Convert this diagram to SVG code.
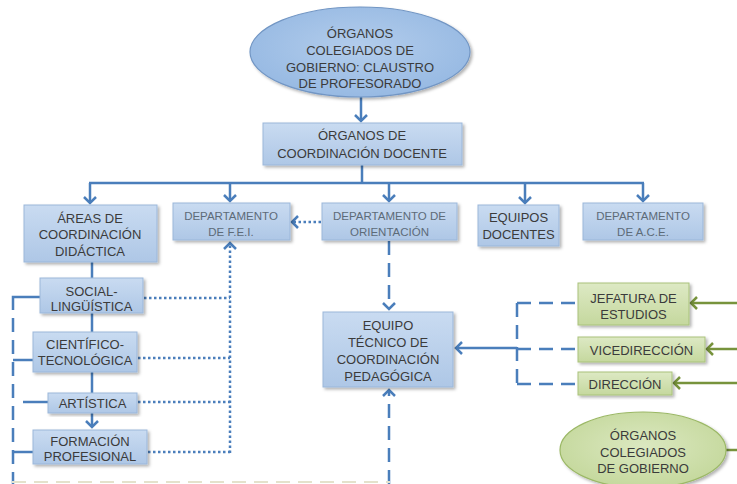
<svg xmlns="http://www.w3.org/2000/svg" width="737" height="484" viewBox="0 0 737 484">
<style>
  text { font-family: "Liberation Sans", Arial, sans-serif; font-size: 13px; fill: #3b3b3b; text-anchor: middle; }
  text.dept { font-size: 11.5px; fill: #5d6b78; }
  .bbox { fill: url(#gBlue); stroke: #9bb7da; stroke-width: 1; filter: url(#sh); }
  .gbox { fill: url(#gGreen); stroke: #a9c27a; stroke-width: 1; filter: url(#sh); }
  .ell { fill: url(#gEll); stroke: #7296c4; stroke-width: 1.2; filter: url(#sh); }
  .gell { fill: url(#gGEll); stroke: #9bb865; stroke-width: 1.2; filter: url(#sh); }
  .c { fill: none; stroke: #4a7ebb; stroke-width: 2.5; }
  .dash { stroke-dasharray: 14 8; }
  .dot { stroke-dasharray: 2.5 2.5; }
  .g { fill: none; stroke: #77933c; stroke-width: 2.5; }
</style>
<defs>
  <linearGradient id="gBlue" x1="0" y1="0" x2="0" y2="1">
    <stop offset="0" stop-color="#c9dbf1"/>
    <stop offset="1" stop-color="#aec7e6"/>
  </linearGradient>
  <linearGradient id="gGreen" x1="0" y1="0" x2="0" y2="1">
    <stop offset="0" stop-color="#dde9c4"/>
    <stop offset="1" stop-color="#c5d89e"/>
  </linearGradient>
  <radialGradient id="gEll" cx="0.5" cy="0.45" r="0.6">
    <stop offset="0" stop-color="#b3cdec"/>
    <stop offset="1" stop-color="#95b8e2"/>
  </radialGradient>
  <radialGradient id="gGEll" cx="0.5" cy="0.45" r="0.6">
    <stop offset="0" stop-color="#dbe8c0"/>
    <stop offset="1" stop-color="#c3d79a"/>
  </radialGradient>
  <filter id="sh" x="-10%" y="-10%" width="125%" height="130%">
    <feDropShadow dx="2" dy="2" stdDeviation="1.5" flood-color="#000" flood-opacity="0.3"/>
  </filter>
  <marker id="aB" markerUnits="userSpaceOnUse" markerWidth="14" markerHeight="14" refX="11" refY="7" orient="auto" overflow="visible">
    <path d="M5,1 L11,7 L5,13" fill="none" stroke="#4a7ebb" stroke-width="2.5"/>
  </marker>
  <marker id="aG" markerUnits="userSpaceOnUse" markerWidth="14" markerHeight="14" refX="11" refY="7" orient="auto" overflow="visible">
    <path d="M5,1 L11,7 L5,13" fill="none" stroke="#77933c" stroke-width="2.5"/>
  </marker>
</defs>

<g id="connectors">
  <line class="c" x1="361" y1="97" x2="361" y2="121" marker-end="url(#aB)"/>
  <line class="c" x1="362" y1="165" x2="362" y2="183"/>
  <line class="c" x1="89" y1="183" x2="644" y2="183"/>
  <line class="c" x1="90" y1="183" x2="90" y2="203" marker-end="url(#aB)"/>
  <line class="c" x1="230" y1="183" x2="230" y2="201" marker-end="url(#aB)"/>
  <line class="c" x1="389" y1="183" x2="389" y2="201" marker-end="url(#aB)"/>
  <line class="c" x1="525" y1="183" x2="525" y2="203" marker-end="url(#aB)"/>
  <line class="c" x1="643" y1="183" x2="643" y2="201" marker-end="url(#aB)"/>
  <line class="c dot" x1="321" y1="222" x2="292" y2="222" marker-end="url(#aB)"/>
  <line class="c dash" x1="389" y1="241" x2="389" y2="309" marker-end="url(#aB)"/>
  <line class="c dash" x1="389" y1="484" x2="389" y2="390" marker-end="url(#aB)"/>
  <line class="c dash" x1="517" y1="303" x2="517" y2="384"/>
  <line class="c dash" x1="517" y1="303" x2="578" y2="303"/>
  <line class="c dash" x1="517" y1="349" x2="578" y2="349"/>
  <line class="c dash" x1="517" y1="384" x2="578" y2="384"/>
  <line class="c" x1="517" y1="348" x2="456" y2="348" marker-end="url(#aB)"/>
  <line class="g" x1="737" y1="303" x2="691" y2="303" marker-end="url(#aG)"/>
  <line class="g" x1="737" y1="349" x2="707" y2="349" marker-end="url(#aG)"/>
  <line class="g" x1="737" y1="383" x2="674" y2="383" marker-end="url(#aG)"/>
  <line class="g" x1="726" y1="450" x2="737" y2="450"/>
  <line class="c" x1="92" y1="262" x2="92" y2="278"/>
  <line class="c" x1="92" y1="313" x2="92" y2="332"/>
  <line class="c" x1="92" y1="372" x2="92" y2="393"/>
  <line class="c" x1="92" y1="413" x2="92" y2="427" marker-end="url(#aB)"/>
  <line class="c dot" x1="144" y1="298" x2="230" y2="298"/>
  <line class="c dot" x1="138" y1="358" x2="230" y2="358"/>
  <line class="c dot" x1="138" y1="402" x2="230" y2="402"/>
  <line class="c dot" x1="148" y1="452" x2="230" y2="452"/>
  <line class="c dot" x1="230" y1="453" x2="230" y2="243" marker-end="url(#aB)"/>
  <path class="c" d="M40,297 H13 V310"/>
  <line class="c dash" x1="13" y1="318" x2="13" y2="484"/>
  <line class="c" x1="33" y1="360" x2="13" y2="360"/>
  <line class="c" x1="48" y1="402" x2="23" y2="402"/>
  <line class="c" x1="33" y1="452" x2="13" y2="452"/>
  <line x1="12" y1="482" x2="390" y2="482" stroke="#e4e2cc" stroke-width="2" stroke-dasharray="14 8"/>
</g>

<g id="claustro">
  <ellipse class="ell" cx="360" cy="52" rx="110" ry="45"/>
  <text x="360" y="38">ÓRGANOS</text>
  <text x="360" y="55">COLEGIADOS DE</text>
  <text x="360" y="72">GOBIERNO: CLAUSTRO</text>
  <text x="360" y="88">DE PROFESORADO</text>
</g>
<g id="coordinacion-docente">
  <rect class="bbox" x="263" y="123" width="199" height="42"/>
  <text x="362" y="139.5">ÓRGANOS DE</text>
  <text x="362" y="157.5">COORDINACIÓN DOCENTE</text>
</g>
<g id="areas">
  <rect class="bbox" x="24" y="205" width="133" height="57"/>
  <text x="90" y="222.5">ÁREAS DE</text>
  <text x="90" y="239">COORDINACIÓN</text>
  <text x="90" y="255.5">DIDÁCTICA</text>
</g>
<g id="dept-fei">
  <rect class="bbox" x="173" y="203" width="117" height="37"/>
  <text class="dept" x="231" y="220">DEPARTAMENTO</text>
  <text class="dept" x="231" y="236">DE F.E.I.</text>
</g>
<g id="dept-orientacion">
  <rect class="bbox" x="322" y="203" width="135" height="37"/>
  <text class="dept" x="389.5" y="220">DEPARTAMENTO DE</text>
  <text class="dept" x="389.5" y="236">ORIENTACIÓN</text>
</g>
<g id="equipos-docentes">
  <rect class="bbox" x="478" y="205" width="81" height="41"/>
  <text x="518.5" y="221.5">EQUIPOS</text>
  <text x="518.5" y="238.5">DOCENTES</text>
</g>
<g id="dept-ace">
  <rect class="bbox" x="583" y="203" width="120" height="37"/>
  <text class="dept" x="643" y="220">DEPARTAMENTO</text>
  <text class="dept" x="643" y="236">DE A.C.E.</text>
</g>
<g id="etcp">
  <rect class="bbox" x="323" y="312" width="130" height="75"/>
  <text x="388" y="329.5">EQUIPO</text>
  <text x="388" y="346.5">TÉCNICO DE</text>
  <text x="388" y="363.5">COORDINACIÓN</text>
  <text x="388" y="380.5">PEDAGÓGICA</text>
</g>
<g id="jefatura">
  <rect class="gbox" x="578" y="283" width="111" height="42"/>
  <text x="633.5" y="302.5">JEFATURA DE</text>
  <text x="633.5" y="318.5">ESTUDIOS</text>
</g>
<g id="vicedireccion">
  <rect class="gbox" x="578" y="337" width="127" height="25"/>
  <text x="641.5" y="354.5">VICEDIRECCIÓN</text>
</g>
<g id="direccion">
  <rect class="gbox" x="578" y="372" width="94" height="23"/>
  <text x="625" y="388.5">DIRECCIÓN</text>
</g>
<g id="colegiados-gobierno">
  <ellipse class="gell" cx="643" cy="450" rx="83" ry="38"/>
  <text x="643" y="439.5">ÓRGANOS</text>
  <text x="643" y="456.5">COLEGIADOS</text>
  <text x="643" y="472.5">DE GOBIERNO</text>
</g>
<g id="social">
  <rect class="bbox" x="40" y="278" width="103" height="35"/>
  <text x="91.5" y="296">SOCIAL-</text>
  <text x="91.5" y="311">LINGÜÍSTICA</text>
</g>
<g id="cientifico">
  <rect class="bbox" x="33" y="332" width="104" height="40"/>
  <text x="85" y="348.5">CIENTÍFICO-</text>
  <text x="85" y="364.5">TECNOLÓGICA</text>
</g>
<g id="artistica">
  <rect class="bbox" x="48" y="393" width="89" height="20"/>
  <text x="92.5" y="407.5">ARTÍSTICA</text>
</g>
<g id="formacion">
  <rect class="bbox" x="33" y="430" width="114" height="34"/>
  <text x="90" y="445.5">FORMACIÓN</text>
  <text x="90" y="460.5">PROFESIONAL</text>
</g>
</svg>
